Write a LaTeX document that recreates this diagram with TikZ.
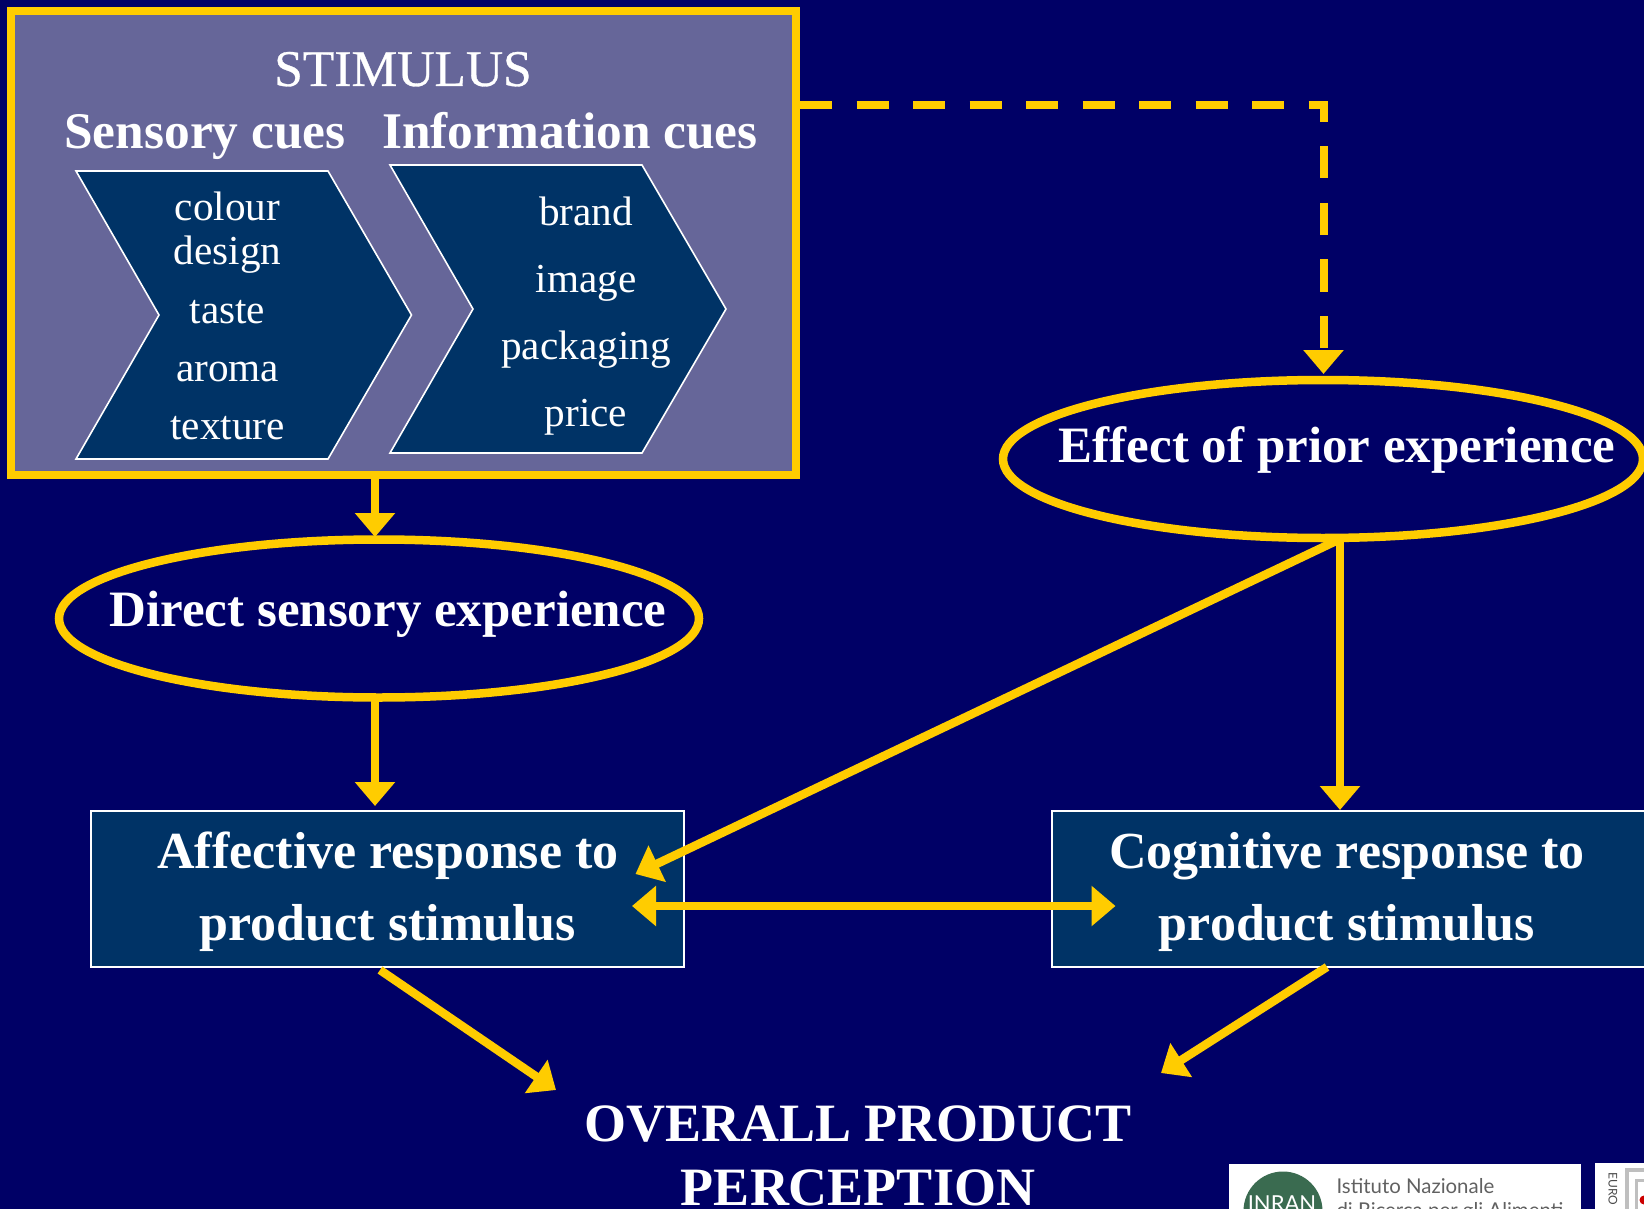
\documentclass[tikz,border=0pt]{standalone}
\usepackage{fontspec}
\setmainfont{Liberation Serif}
\newfontfamily\logofont{Lato}
\newfontfamily\semifont[FakeBold=0.6]{Liberation Serif}
\usetikzlibrary{arrows.meta,shapes.geometric}
\definecolor{bgc}{HTML}{000066}
\definecolor{gold}{HTML}{FFCC00}
\definecolor{panel}{HTML}{666699}
\definecolor{boxc}{HTML}{003366}
\definecolor{logog}{HTML}{3A6B50}
\newcommand{\fs}[1]{\fontsize{#1}{#1}\selectfont}
\tikzset{
  x=1pt,y=-1pt,
  stimbox/.style={draw=gold,fill=panel,line width=8pt,inner sep=0pt},
  respbox/.style={draw=white,fill=boxc,line width=2pt,inner sep=0pt,minimum height=156pt},
  oval/.style={ellipse,draw=gold,line width=8.5pt,inner sep=0pt,minimum width=640pt,minimum height=158pt},
  chev/.style={draw=white,fill=boxc,line width=1.6pt,line join=miter},
  head/.style={text=white,anchor=base,font=\fs{51.4}\bfseries},
  big/.style={text=white,anchor=base,font=\semifont\fs{51.5}},
  item/.style={text=white,anchor=base,font=\fs{41.2}},
  lab/.style={text=white,anchor=base,font=\fs{51}\bfseries},
  labb/.style={text=white,anchor=base,font=\fs{52}\bfseries},
  ovl/.style={text=white,anchor=base,font=\fs{54}\bfseries},
  conn/.style={draw=gold,line width=8.5pt,-{Triangle[length=24pt,width=39pt]}},
  dconn/.style={draw=gold,line width=8.5pt,{Triangle[length=24pt,width=39pt]}-{Triangle[length=24pt,width=39pt]}},
  dashconn/.style={draw=gold,line width=8pt,dash pattern=on 32pt off 24.5pt,-{Triangle[length=24pt,width=39pt]}},
  logotxt/.style={anchor=base west,text=black!62,font=\logofont\fs{20.4}},
}
\begin{document}
\begin{tikzpicture}
\path[use as bounding box,clip] (0,0) rectangle (1644,1209);
\fill[bgc] (0,0) rectangle (1644,1209);
% stimulus panel
\node[stimbox,minimum width=785pt,minimum height=464pt] (stim) at (403.5,243) {};
\node[big] (stimt) at (403,86) {STIMULUS};
\node[head] (sens) at (205,149) {Sensory cues};
\node[head] (info) at (570,149) {Information cues};
\draw[chev] (76,171) coordinate (c1) -- (328,171) -- (411.5,315) -- (328,459) -- (76,459) -- (159,315) -- cycle;
\draw[chev] (390,165) coordinate (c2) -- (642,165) -- (726,309) -- (642,453) -- (390,453) -- (473,309) -- cycle;
\node[item] (i1) at (227.5,221) {colour};
\node[item] (i2) at (227.5,265) {design};
\node[item] (i3) at (227.5,323.5) {taste};
\node[item] (i4) at (227.5,381.5) {aroma};
\node[item] (i5) at (227.5,439) {texture};
\node[item] (j1) at (586,225.5) {brand};
\node[item] (j2) at (586,292.5) {image};
\node[item] (j3) at (586,359) {packaging};
\node[item] (j4) at (586,426.5) {price};
% ovals
\node[oval] (prior) at (1323,459) {};
\node[lab] (priort) at (1337,462) {Effect of prior experience};
\node[oval] (direct) at (379,618.5) {};
\node[lab] (directt) at (388,626) {Direct sensory experience};
% response boxes
\node[respbox,minimum width=593pt] (aff) at (387.5,888.5) {};
\node[labb] (aff1) at (388,868) {Affective response to};
\node[labb] (aff2) at (388,940) {product stimulus};
\node[respbox,minimum width=600pt] (cog) at (1351.5,888.5) {};
\node[labb] (cog1) at (1347,868) {Cognitive response to};
\node[labb] (cog2) at (1347,940) {product stimulus};
% overall
\node[ovl] (ov1) at (858,1141) {OVERALL PRODUCT};
\node[ovl] (ov2) at (858,1205) {PERCEPTION};
% connector ends
\coordinate (a1) at (375,479);
\coordinate (a2) at (375,537);
\coordinate (a3) at (375,697);
\coordinate (a4) at (375,806);
\coordinate (b1) at (1340,538);
\coordinate (b2) at (1340,810);
\coordinate (b3) at (1336,541);
\coordinate (b4) at (635.5,874);
\coordinate (d0) at (800,105);
\coordinate (d1) at (1323.5,374);
\coordinate (e1) at (632,906);
\coordinate (e2) at (1115.5,906);
\coordinate (f1) at (380,970);
\coordinate (f2) at (556,1090);
\coordinate (g1) at (1327,967);
\coordinate (g2) at (1161,1073);
\draw[conn] (a1) -- (a2);
\draw[conn] (a3) -- (a4);
\draw[conn] (b1) -- (b2);
\draw[conn] (b3) -- (b4);
\draw[dconn] (e1) -- (e2);
\draw[conn] (f1) -- (f2);
\draw[conn] (g1) -- (g2);
\draw[dashconn] (d0) -| (d1);
% logos
\fill[white] (1229,1164) rectangle (1581,1215);
\fill[logog] (1283,1211) circle (39.5);
\node[text=white,font=\logofont\fs{22}] (lg) at (1282,1204) {INRAN};
\node[logotxt] (l1) at (1333,1193) {Istituto Nazionale};
\node[logotxt] (l2) at (1333,1217) {di Ricerca per gli Alimenti};
\fill[white] (1595,1163) rectangle (1644,1215);
\node[rotate=-90,anchor=west,text=black!70,font=\logofont\fs{12}] (eu) at (1613,1169) {EURO};
\draw[black!25,line width=4pt] (1627,1215) -- (1627,1170) -- (1650,1170);
\draw[black!25,line width=3pt] (1636,1215) -- (1636,1180) -- (1650,1180);
\fill[red!80!black] (1644,1200) circle (4.5);
\end{tikzpicture}
\end{document}
